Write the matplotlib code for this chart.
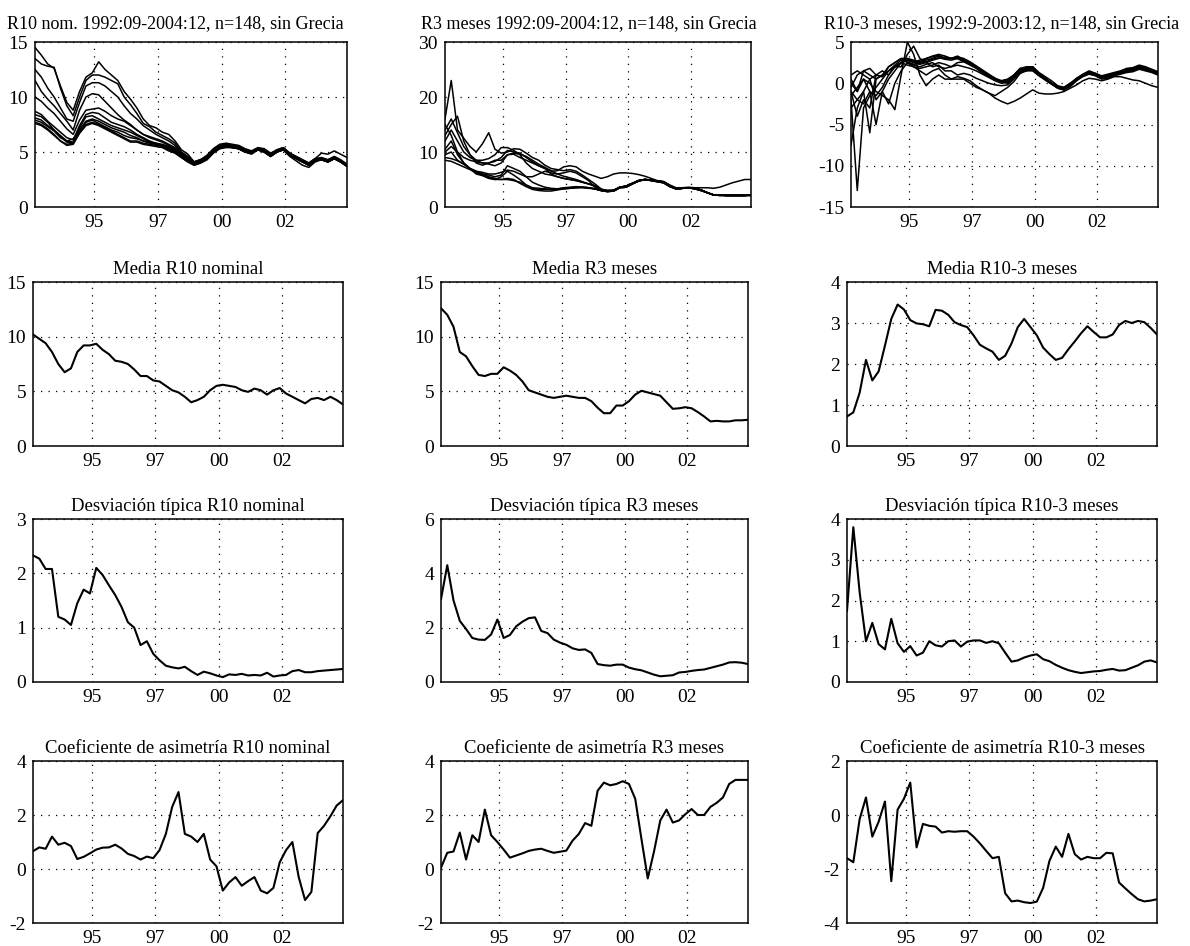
import numpy as np
import matplotlib.pyplot as plt

plt.rcParams['font.family'] = ['Liberation Serif', 'DejaVu Serif']
plt.rcParams['axes.unicode_minus'] = False

# observaciones mensuales 1992:09-2004:12 (una de cada tres)
meses = np.arange(1, 149, 3)
marcas_x = [29, 59, 89, 119]
etiquetas_x = ['95', '97', '00', '02']

# R10 nominal por pais
r10_nom = [
    [14.5, 13.8, 13.0, 12.6, 11.0, 9.5, 8.8, 10.5, 11.8, 12.2,
     13.2, 12.5, 12.0, 11.5, 10.5, 9.8, 9.0, 8.0, 7.4, 7.2,
     6.8, 6.6, 6.0, 5.2, 4.8, 4.1, 4.3, 4.7, 5.3, 5.7,
     5.8, 5.7, 5.6, 5.3, 5.1, 5.4, 5.3, 4.9, 5.2, 5.4,
     4.9, 4.6, 4.3, 4.0, 4.4, 4.5, 4.3, 4.6, 4.3, 3.9],
    [13.5, 13.0, 12.8, 12.7, 10.8, 9.2, 8.3, 10.0, 11.5, 12.0,
     12.0, 11.8, 11.5, 11.2, 10.0, 9.3, 8.5, 7.6, 7.3, 6.8,
     6.5, 6.2, 5.8, 5.0, 4.6, 4.0, 4.2, 4.6, 5.2, 5.6,
     5.7, 5.6, 5.5, 5.2, 5.0, 5.3, 5.2, 4.8, 5.1, 5.3,
     4.8, 4.5, 4.2, 3.9, 4.3, 4.4, 4.2, 4.5, 4.2, 3.8],
    [12.5, 11.8, 10.8, 10.0, 9.0, 8.0, 7.8, 9.5, 11.0, 11.3,
     11.3, 11.0, 10.5, 10.0, 9.2, 8.5, 8.0, 7.4, 7.0, 6.6,
     6.3, 6.0, 5.6, 4.9, 4.5, 4.1, 4.3, 4.6, 5.2, 5.6,
     5.7, 5.6, 5.5, 5.2, 5.0, 5.3, 5.2, 4.8, 5.2, 5.4,
     4.9, 4.6, 4.3, 4.0, 4.4, 4.4, 4.3, 4.5, 4.2, 3.9],
    [11.5, 10.5, 9.8, 9.2, 8.5, 7.8, 7.0, 8.8, 10.0, 10.3,
     10.2, 9.6, 9.0, 8.4, 7.9, 7.5, 7.0, 6.6, 6.4, 6.2,
     6.0, 5.7, 5.4, 4.8, 4.4, 4.0, 4.2, 4.5, 5.1, 5.5,
     5.6, 5.5, 5.4, 5.1, 4.9, 5.2, 5.1, 4.7, 5.1, 5.3,
     4.8, 4.4, 4.1, 3.8, 4.2, 4.3, 4.1, 4.4, 4.1, 3.7],
    [10.0, 9.6, 9.0, 8.5, 7.8, 7.1, 6.6, 7.9, 8.8, 8.9,
     9.0, 8.7, 8.3, 8.0, 7.8, 7.4, 7.0, 6.6, 6.3, 6.1,
     5.9, 5.6, 5.3, 4.8, 4.4, 4.1, 4.3, 4.5, 5.0, 5.4,
     5.5, 5.4, 5.3, 5.0, 4.9, 5.2, 5.0, 4.6, 5.0, 5.2,
     4.6, 4.2, 3.8, 3.6, 4.1, 4.3, 4.1, 4.4, 4.1, 3.7],
    [8.7, 8.4, 7.8, 7.3, 6.8, 6.3, 6.1, 7.4, 8.4, 8.6,
     8.5, 8.1, 7.7, 7.5, 7.3, 7.0, 6.6, 6.3, 6.0, 5.8,
     5.7, 5.5, 5.2, 4.7, 4.3, 4.0, 4.2, 4.5, 5.1, 5.5,
     5.6, 5.5, 5.4, 5.1, 5.0, 5.3, 5.1, 4.7, 5.1, 5.3,
     4.8, 4.5, 4.2, 3.9, 4.4, 4.9, 4.8, 5.1, 4.8, 4.5],
    [8.4, 8.2, 7.7, 7.0, 6.5, 6.0, 5.9, 7.2, 8.2, 8.3,
     8.0, 7.7, 7.4, 7.2, 7.0, 6.8, 6.5, 6.2, 5.9, 5.7,
     5.6, 5.4, 5.1, 4.6, 4.2, 3.9, 4.1, 4.4, 5.0, 5.4,
     5.5, 5.4, 5.3, 5.0, 4.9, 5.2, 5.0, 4.6, 5.0, 5.2,
     4.7, 4.4, 4.1, 3.8, 4.2, 4.3, 4.1, 4.4, 4.1, 3.7],
    [8.1, 7.9, 7.4, 7.0, 6.4, 5.9, 5.8, 7.0, 7.8, 8.0,
     7.8, 7.5, 7.2, 7.0, 6.8, 6.5, 6.3, 6.0, 5.8, 5.7,
     5.6, 5.3, 5.0, 4.6, 4.2, 3.9, 4.1, 4.4, 5.0, 5.4,
     5.5, 5.5, 5.3, 5.0, 4.9, 5.2, 5.1, 4.7, 5.1, 5.3,
     4.8, 4.5, 4.2, 3.9, 4.3, 4.4, 4.2, 4.5, 4.2, 3.8],
    [7.7, 7.5, 7.1, 6.6, 6.0, 5.7, 5.8, 6.8, 7.5, 7.7,
     7.5, 7.2, 6.9, 6.6, 6.3, 6.0, 6.0, 5.8, 5.7, 5.6,
     5.5, 5.2, 4.9, 4.5, 4.1, 3.8, 4.0, 4.3, 4.9, 5.3,
     5.5, 5.4, 5.3, 5.0, 4.9, 5.2, 5.0, 4.6, 5.0, 5.2,
     4.7, 4.4, 4.1, 3.8, 4.2, 4.3, 4.1, 4.4, 4.1, 3.7],
    [7.6, 7.4, 7.0, 6.5, 6.0, 5.6, 5.7, 6.7, 7.4, 7.6,
     7.4, 7.1, 6.8, 6.5, 6.2, 5.9, 5.9, 5.7, 5.6, 5.5,
     5.4, 5.1, 4.9, 4.5, 4.1, 3.8, 4.0, 4.3, 4.9, 5.3,
     5.4, 5.4, 5.3, 5.0, 4.8, 5.2, 5.0, 4.6, 5.0, 5.2,
     4.7, 4.4, 4.1, 3.8, 4.2, 4.3, 4.1, 4.4, 4.1, 3.7],
    [7.9, 7.7, 7.3, 6.9, 6.3, 6.0, 6.2, 7.0, 7.7, 7.9,
     7.6, 7.3, 7.0, 6.8, 6.5, 6.3, 6.2, 6.0, 5.9, 5.8,
     5.6, 5.4, 5.1, 4.8, 4.4, 3.9, 4.1, 4.4, 5.0, 5.4,
     5.5, 5.5, 5.4, 5.1, 4.9, 5.2, 5.1, 4.7, 5.1, 5.3,
     4.8, 4.5, 4.2, 3.9, 4.3, 4.4, 4.2, 4.5, 4.2, 3.8],
]

# tipo a 3 meses por pais
r3_meses = [
    [16.0, 23.0, 14.0, 12.5, 11.0, 10.0, 11.5, 13.5, 10.5, 9.8,
     10.0, 10.6, 10.5, 9.8, 9.0, 8.5, 7.6, 7.0, 6.8, 6.6,
     6.8, 6.5, 5.8, 5.0, 4.2, 3.3, 2.9, 2.9, 3.6, 3.8,
     4.3, 4.8, 5.0, 4.9, 4.7, 4.6, 3.9, 3.3, 3.4, 3.5,
     3.4, 3.1, 2.6, 2.2, 2.2, 2.1, 2.1, 2.1, 2.1, 2.2],
    [13.0, 15.0, 16.5, 12.0, 9.5, 8.0, 7.6, 8.0, 8.5, 8.5,
     9.5, 9.8, 9.6, 9.2, 8.5, 7.8, 7.2, 6.6, 6.0, 5.6,
     5.3, 5.0, 4.6, 4.2, 3.8, 3.1, 3.0, 3.1, 3.6, 3.8,
     4.3, 4.8, 5.0, 4.9, 4.7, 4.6, 3.9, 3.3, 3.4, 3.5,
     3.4, 3.1, 2.6, 2.2, 2.2, 2.1, 2.1, 2.1, 2.1, 2.2],
    [10.0, 11.0, 10.0, 9.0, 8.5, 8.2, 8.0, 8.0, 8.3, 9.0,
     10.3, 10.0, 9.8, 9.0, 8.2, 7.5, 7.0, 6.5, 6.6, 7.3,
     7.5, 7.3, 6.5, 6.0, 5.6, 5.2, 5.5, 6.0, 6.2, 6.2,
     6.1, 5.9, 5.6, 5.2, 4.8, 4.6, 4.0, 3.5, 3.5, 3.6,
     3.5, 3.5, 3.5, 3.4, 3.6, 4.0, 4.4, 4.7, 5.0, 5.0],
    [12.0, 14.0, 12.0, 10.0, 9.0, 8.5, 8.5, 8.8, 9.5, 10.8,
     10.8, 10.3, 9.5, 8.0, 7.0, 6.5, 6.0, 5.8, 5.5, 5.2,
     5.0, 4.8, 4.5, 4.2, 3.9, 3.2, 3.0, 3.0, 3.6, 3.8,
     4.3, 4.8, 5.0, 4.9, 4.7, 4.5, 3.8, 3.3, 3.4, 3.5,
     3.4, 3.1, 2.6, 2.2, 2.2, 2.1, 2.1, 2.1, 2.1, 2.2],
    [15.0, 13.0, 10.0, 8.0, 7.0, 6.5, 6.3, 6.0, 6.0, 6.3,
     6.7, 6.5, 6.0, 5.5, 5.5, 6.0, 6.5, 6.2, 6.0, 6.2,
     6.5, 6.2, 5.5, 4.8, 3.6, 3.0, 2.9, 3.0, 3.6, 3.8,
     4.3, 4.8, 5.0, 4.9, 4.7, 4.6, 3.9, 3.3, 3.4, 3.5,
     3.4, 3.1, 2.6, 2.2, 2.2, 2.1, 2.1, 2.1, 2.1, 2.2],
    [10.5, 12.0, 9.5, 8.0, 7.0, 6.5, 6.0, 5.8, 5.5, 5.8,
     7.5, 7.0, 6.5, 5.5, 4.5, 4.0, 3.6, 3.4, 3.3, 3.5,
     3.6, 3.7, 3.6, 3.5, 3.3, 3.0, 2.9, 3.0, 3.6, 3.7,
     4.2, 4.8, 5.0, 4.9, 4.7, 4.5, 3.8, 3.3, 3.4, 3.5,
     3.3, 3.0, 2.6, 2.2, 2.2, 2.1, 2.1, 2.1, 2.1, 2.2],
    [9.0, 8.8, 8.4, 7.8, 7.0, 6.3, 6.0, 5.5, 5.2, 5.0,
     5.0, 4.8, 4.5, 4.0, 3.5, 3.4, 3.3, 3.2, 3.2, 3.3,
     3.4, 3.5, 3.6, 3.5, 3.3, 3.0, 2.8, 2.9, 3.5, 3.6,
     4.2, 4.7, 5.0, 4.8, 4.6, 4.4, 3.7, 3.3, 3.4, 3.5,
     3.3, 3.0, 2.6, 2.2, 2.1, 2.1, 2.1, 2.1, 2.1, 2.1],
    [8.5, 8.3, 7.8, 7.3, 6.8, 6.2, 5.8, 5.3, 5.0, 5.0,
     5.2, 5.0, 4.3, 3.7, 3.2, 3.0, 2.9, 2.9, 3.1, 3.3,
     3.4, 3.5, 3.5, 3.4, 3.3, 3.0, 2.8, 2.9, 3.5, 3.6,
     4.2, 4.7, 5.0, 4.8, 4.6, 4.4, 3.7, 3.3, 3.4, 3.5,
     3.3, 3.0, 2.6, 2.2, 2.1, 2.1, 2.1, 2.1, 2.1, 2.1],
    [9.5, 10.0, 8.5, 7.8, 7.0, 6.0, 5.7, 5.2, 5.0, 5.5,
     6.5, 5.8, 5.0, 4.0, 3.4, 3.2, 3.2, 3.2, 3.3, 3.4,
     3.5, 3.6, 3.6, 3.5, 3.3, 3.0, 2.8, 2.9, 3.5, 3.6,
     4.2, 4.7, 5.0, 4.8, 4.6, 4.4, 3.7, 3.3, 3.4, 3.5,
     3.3, 3.0, 2.6, 2.2, 2.1, 2.1, 2.1, 2.1, 2.1, 2.1],
    [14.0, 16.0, 13.5, 11.0, 9.5, 8.5, 8.0, 7.8, 7.5, 8.0,
     9.5, 9.6, 9.0, 8.5, 8.0, 7.5, 7.0, 6.0, 5.5, 5.2,
     5.0, 4.8, 4.5, 4.2, 3.8, 3.1, 3.0, 3.0, 3.6, 3.8,
     4.3, 4.8, 5.0, 4.9, 4.7, 4.6, 3.9, 3.3, 3.4, 3.5,
     3.4, 3.1, 2.6, 2.2, 2.2, 2.1, 2.1, 2.1, 2.1, 2.2],
]

# diferencial R10 - 3 meses por pais (uno termina en 2003:12)
nan = np.nan
r10_3_meses = [
    [-2.0, -13.0, -3.0, -1.5, -0.5, 0.5, 1.5, 2.0, 2.5, 2.8,
     2.5, 2.3, 2.5, 2.8, 3.0, 3.2, 3.0, 3.2, 2.8, 2.5,
     2.0, 1.5, 1.0, 0.5, 0.3, 0.5, 1.0, 1.8, 1.5, 2.0,
     1.3, 0.8, 0.3, -0.3, -0.5, 0.0, 0.6, 1.0, 1.4, 1.2,
     0.8, 1.0, 1.2, 1.4, 1.6, 1.7, 2.0, 1.8, 1.6, 1.3],
    [-7.5, -3.0, -1.0, 0.5, 1.0, 0.8, 2.0, 2.5, 3.0, 2.5,
     2.2, 2.0, 2.3, 2.5, 2.0, 1.8, 2.0, 2.5, 2.6, 2.2,
     1.8, 1.2, 0.8, 0.5, 0.2, 0.2, 0.8, 1.5, 1.8, 1.8,
     1.0, 0.5, 0.0, -0.5, -0.8, nan, nan, nan, nan, nan,
     nan, nan, nan, nan, nan, nan, nan, nan, nan, nan],
    [-1.0, -2.0, -1.0, -6.0, 0.5, 1.0, 1.5, 2.0, 2.5, 2.8,
     2.6, 2.5, 2.8, 3.0, 3.3, 3.0, 3.0, 3.0, 2.6, 2.4,
     2.0, 1.5, 1.0, 0.5, 0.2, 0.0, 0.6, 1.4, 1.6, 1.6,
     1.0, 0.5, 0.0, -0.4, -0.5, 0.0, 0.5, 1.0, 1.3, 1.1,
     0.8, 0.9, 1.1, 1.3, 1.5, 1.6, 1.9, 1.8, 1.6, 1.3],
    [0.0, -1.0, 0.5, -1.0, -5.0, -1.0, 0.5, 1.5, 2.5, 3.0,
     2.8, 2.6, 3.0, 3.2, 3.4, 3.0, 3.0, 3.3, 2.8, 2.4,
     2.0, 1.5, 1.0, 0.6, 0.2, 0.2, 0.8, 1.5, 1.7, 1.7,
     1.0, 0.5, 0.0, -0.4, -0.6, -0.2, 0.5, 1.0, 1.3, 1.0,
     0.7, 0.9, 1.1, 1.3, 1.5, 1.6, 1.9, 1.7, 1.5, 1.2],
    [-1.5, -0.5, 0.5, 0.0, -1.0, -1.5, -2.0, -3.2, 1.0, 5.0,
     3.5, 1.0, -0.3, 0.5, 1.0, 0.5, 0.5, 0.8, 0.6, 0.3,
     -0.3, -0.8, -1.2, -1.8, -2.2, -2.5, -2.2, -1.8, -1.3, -0.8,
     -1.2, -1.3, -1.3, -1.2, -1.0, -0.6, -0.2, 0.3, 0.6, 0.5,
     0.3, 0.5, 0.8, 0.8, 0.6, 0.4, 0.3, 0.0, -0.3, -0.5],
    [1.0, 1.5, 1.0, 0.5, -2.0, -1.0, -2.5, 0.0, 1.5, 2.5,
     2.0, 1.5, 1.0, 1.5, 1.8, 1.0, 0.5, 0.5, 0.5, 0.0,
     -0.5, -0.8, -1.2, -1.5, -1.0, -0.5, 0.2, 1.2, 1.8, 1.6,
     1.0, 0.5, 0.0, -0.5, -0.8, -0.3, 0.4, 0.9, 1.2, 1.0,
     0.6, 0.7, 1.0, 1.2, 1.4, 1.5, 1.8, 1.6, 1.4, 1.1],
    [-0.5, 1.0, 1.5, 1.0, 0.5, 1.0, 2.0, 2.5, 3.0, 3.0,
     2.6, 2.8, 3.0, 3.3, 3.5, 3.3, 3.0, 3.2, 3.0, 2.6,
     2.1, 1.6, 1.1, 0.6, 0.3, 0.4, 1.0, 1.8, 2.0, 2.0,
     1.2, 0.6, 0.0, -0.5, -0.7, -0.2, 0.6, 1.1, 1.5, 1.2,
     0.9, 1.1, 1.3, 1.5, 1.8, 1.9, 2.2, 2.0, 1.7, 1.4],
    [-3.0, -2.0, -2.5, -1.0, -1.5, -0.5, 1.0, 2.0, 2.5, 2.2,
     2.0, 1.8, 2.0, 2.2, 2.5, 2.3, 2.0, 2.2, 2.0, 1.8,
     1.5, 1.1, 0.7, 0.3, 0.0, 0.1, 0.7, 1.4, 1.6, 1.6,
     1.0, 0.4, -0.1, -0.6, -0.8, -0.3, 0.4, 0.9, 1.2, 1.0,
     0.6, 0.8, 1.0, 1.2, 1.5, 1.6, 1.9, 1.7, 1.5, 1.2],
    [-1.0, -4.0, -2.0, -3.0, 1.0, 1.5, 1.0, 2.0, 2.0, 3.5,
     4.5, 3.0, 2.5, 2.0, 2.2, 1.5, 1.5, 1.0, 1.2, 1.0,
     0.6, 0.3, 0.0, -0.2, -0.3, -0.2, 0.5, 1.2, 1.5, 1.5,
     0.9, 0.4, -0.1, -0.6, -0.8, -0.4, 0.3, 0.8, 1.1, 0.9,
     0.5, 0.6, 0.9, 1.1, 1.3, 1.4, 1.7, 1.5, 1.3, 1.0],
    [0.5, -1.0, 1.5, 1.8, 1.0, 0.8, 1.5, 2.2, 2.8, 2.6,
     2.3, 2.4, 2.6, 2.9, 3.1, 2.9, 2.8, 3.0, 2.7, 2.4,
     1.9, 1.4, 0.9, 0.5, 0.2, 0.3, 0.9, 1.6, 1.9, 1.9,
     1.1, 0.6, 0.0, -0.5, -0.7, -0.2, 0.5, 1.0, 1.4, 1.1,
     0.8, 1.0, 1.2, 1.4, 1.7, 1.8, 2.1, 1.9, 1.6, 1.3],
]

media_r10 = [10.2, 9.8, 9.4, 8.6, 7.5, 6.75, 7.1, 8.6, 9.2, 9.2,
             9.35, 8.8, 8.4, 7.8, 7.7, 7.5, 7.0, 6.4, 6.4, 6.0,
             5.9, 5.5, 5.1, 4.9, 4.5, 4.0, 4.2, 4.5, 5.1, 5.5,
             5.6, 5.5, 5.4, 5.1, 4.95, 5.25, 5.1, 4.7, 5.1, 5.3,
             4.8, 4.5, 4.2, 3.9, 4.3, 4.4, 4.2, 4.5, 4.2, 3.8]
media_r3 = [12.6, 12.0, 10.9, 8.6, 8.2, 7.3, 6.5, 6.4, 6.6, 6.6,
            7.2, 6.9, 6.5, 5.9, 5.1, 4.9, 4.7, 4.5, 4.4, 4.5,
            4.6, 4.5, 4.4, 4.4, 4.1, 3.5, 3.0, 3.0, 3.7, 3.7,
            4.1, 4.7, 5.05, 4.9, 4.75, 4.6, 4.0, 3.4, 3.45, 3.55,
            3.45, 3.1, 2.7, 2.25, 2.3, 2.25, 2.25, 2.35, 2.35, 2.4]
media_r10_3 = [0.72, 0.82, 1.3, 2.1, 1.6, 1.82, 2.45, 3.1, 3.45, 3.33,
               3.07, 2.99, 2.97, 2.92, 3.32, 3.3, 3.2, 3.02, 2.95, 2.9,
               2.7, 2.47, 2.38, 2.3, 2.1, 2.2, 2.5, 2.9, 3.1, 2.9,
               2.7, 2.4, 2.24, 2.1, 2.15, 2.36, 2.55, 2.75, 2.92, 2.78,
               2.65, 2.65, 2.72, 2.95, 3.05, 3.0, 3.05, 3.02, 2.88, 2.72]

desv_r10 = [2.33, 2.27, 2.08, 2.08, 1.2, 1.15, 1.05, 1.45, 1.7, 1.63,
            2.1, 1.97, 1.78, 1.6, 1.38, 1.1, 1.0, 0.68, 0.75, 0.52,
            0.4, 0.3, 0.27, 0.25, 0.28, 0.2, 0.13, 0.19, 0.16, 0.12,
            0.09, 0.14, 0.13, 0.15, 0.12, 0.13, 0.12, 0.17, 0.1, 0.12,
            0.13, 0.2, 0.22, 0.18, 0.18, 0.2, 0.21, 0.22, 0.23, 0.24]
desv_r3 = [3.05, 4.3, 3.0, 2.25, 1.95, 1.62, 1.56, 1.55, 1.75, 2.3,
           1.62, 1.73, 2.05, 2.22, 2.35, 2.38, 1.88, 1.8, 1.56, 1.45,
           1.37, 1.24, 1.18, 1.2, 1.07, 0.66, 0.62, 0.6, 0.64, 0.64,
           0.53, 0.47, 0.43, 0.35, 0.27, 0.21, 0.23, 0.25, 0.35, 0.37,
           0.41, 0.44, 0.46, 0.52, 0.58, 0.64, 0.72, 0.73, 0.71, 0.66]
desv_r10_3 = [1.75, 3.8, 2.2, 1.0, 1.45, 0.93, 0.8, 1.55, 0.95, 0.74,
              0.88, 0.65, 0.72, 1.0, 0.9, 0.87, 1.0, 1.02, 0.87, 0.99,
              1.02, 1.02, 0.96, 1.0, 0.95, 0.72, 0.5, 0.53, 0.6, 0.65,
              0.68, 0.56, 0.51, 0.42, 0.35, 0.29, 0.25, 0.22, 0.24, 0.26,
              0.27, 0.3, 0.32, 0.28, 0.29, 0.35, 0.41, 0.5, 0.53, 0.48]

asim_r10 = [0.66, 0.8, 0.75, 1.2, 0.9, 0.97, 0.85, 0.37, 0.45, 0.58,
            0.72, 0.79, 0.8, 0.9, 0.76, 0.56, 0.48, 0.35, 0.46, 0.4,
            0.7, 1.3, 2.3, 2.85, 1.3, 1.2, 1.0, 1.3, 0.35, 0.1,
            -0.8, -0.5, -0.3, -0.62, -0.45, -0.3, -0.8, -0.9, -0.7, 0.25,
            0.7, 1.0, -0.3, -1.15, -0.85, 1.33, 1.6, 1.95, 2.35, 2.55]
asim_r3 = [0.05, 0.6, 0.65, 1.35, 0.35, 1.25, 1.0, 2.2, 1.25, 1.0,
           0.72, 0.42, 0.5, 0.58, 0.67, 0.72, 0.75, 0.67, 0.6, 0.64,
           0.68, 1.05, 1.3, 1.7, 1.6, 2.9, 3.2, 3.1, 3.15, 3.25,
           3.15, 2.6, 1.1, -0.35, 0.65, 1.8, 2.2, 1.72, 1.8, 2.03,
           2.22, 2.0, 2.0, 2.3, 2.45, 2.65, 3.15, 3.3, 3.3, 3.3]
asim_r10_3 = [-1.6, -1.75, -0.15, 0.65, -0.8, -0.25, 0.5, -2.45, 0.2, 0.6,
              1.2, -1.2, -0.33, -0.4, -0.43, -0.65, -0.6, -0.62, -0.6, -0.6,
              -0.8, -1.05, -1.33, -1.6, -1.55, -2.9, -3.2, -3.17, -3.23, -3.26,
              -3.21, -2.7, -1.7, -1.17, -1.55, -0.7, -1.45, -1.65, -1.55, -1.6,
              -1.6, -1.4, -1.42, -2.5, -2.72, -2.93, -3.12, -3.2, -3.17, -3.12]

titulos = [
    ['R10 nom. 1992:09-2004:12, n=148, sin Grecia',
     'R3 meses 1992:09-2004:12, n=148, sin Grecia',
     'R10-3 meses, 1992:9-2003:12, n=148, sin Grecia'],
    ['Media R10 nominal', 'Media R3 meses', 'Media R10-3 meses'],
    ['Desviación típica R10 nominal', 'Desviación típica R3 meses',
     'Desviación típica R10-3 meses'],
    ['Coeficiente de asimetría R10 nominal', 'Coeficiente de asimetría R3 meses',
     'Coeficiente de asimetría R10-3 meses'],
]
series = [
    [r10_nom, r3_meses, r10_3_meses],
    [media_r10, media_r3, media_r10_3],
    [desv_r10, desv_r3, desv_r10_3],
    [asim_r10, asim_r3, asim_r10_3],
]
marcas_y = [
    [[0, 5, 10, 15], [0, 10, 20, 30], [-15, -10, -5, 0, 5]],
    [[0, 5, 10, 15], [0, 5, 10, 15], [0, 1, 2, 3, 4]],
    [[0, 1, 2, 3], [0, 2, 4, 6], [0, 1, 2, 3, 4]],
    [[-2, 0, 2, 4], [-2, 0, 2, 4], [-4, -2, 0, 2]],
]

# cajas de los ejes en pixeles (izq, arriba, der, abajo)
W, H = 1190, 946
filas = [(42, 207), (282, 446), (519, 682), (761, 923)]
cols_sup = [(35, 347), (445, 751), (851, 1158)]
cols = [(33, 343), (441, 748), (847, 1157)]
# los titulos largos de arriba van algo desplazados a la izquierda
x_titulo_sup = [0.45, 0.47, 0.49]

fig = plt.figure(figsize=(W / 100, H / 100), dpi=100)

for i in range(4):
    for j in range(3):
        izq, der = (cols_sup if i == 0 else cols)[j]
        arr, aba = filas[i]
        ax = fig.add_axes([izq / W, 1 - aba / H, (der - izq) / W, (aba - arr) / H])
        datos = series[i][j]
        if i == 0:
            for s in datos:
                ax.plot(meses, s, color='k', lw=1.1)
        else:
            ax.plot(meses, datos, color='k', lw=1.5)
        yt = marcas_y[i][j]
        ax.set_xlim(1, 148)
        ax.set_ylim(yt[0], yt[-1])
        ax.set_xticks(marcas_x)
        ax.set_xticklabels(etiquetas_x)
        ax.set_yticks(yt)
        ax.set_yticklabels([str(v) for v in yt])
        ax.grid(True, color='k', linestyle=(0, (1, 5)), lw=0.9)
        ax.tick_params(direction='in', length=0, labelsize=14, pad=5)
        for sp in ax.spines.values():
            sp.set_linewidth(1.1)
        if i == 0:
            ax.set_title(titulos[i][j], fontsize=13, pad=10, x=x_titulo_sup[j])
        else:
            ax.set_title(titulos[i][j], fontsize=13.5, pad=6)

fig.savefig('out.png', dpi=100)
